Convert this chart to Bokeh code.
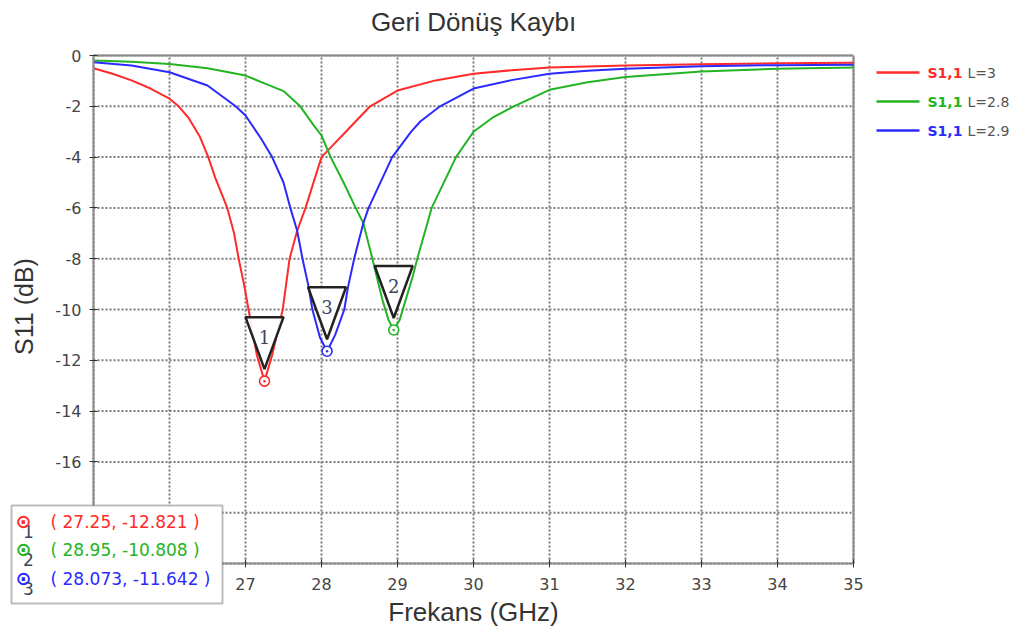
from bokeh.plotting import figure
from bokeh.models import Label, BoxAnnotation, FixedTicker, Range1d, LinearAxis, PrintfTickFormatter
from bokeh.core.properties import value
from bokeh.embed import file_html
from bokeh.resources import INLINE

# ---- data ----
freq_L3 = [25.0, 25.25, 25.5, 25.75, 26.0, 26.12, 26.25, 26.4, 26.51, 26.6, 26.76, 26.85, 26.91, 26.98,
           27.04, 27.15, 27.25, 27.35, 27.49, 27.58, 27.68, 27.79, 28.0, 28.16, 28.32, 28.64, 29.0,
           29.5, 30.0, 30.5, 31.0, 32.0, 33.0, 34.0, 35.0]
s11_L3 = [-0.5, -0.72, -0.98, -1.3, -1.7, -2.0, -2.45, -3.2, -4.0, -4.8, -6.0, -7.0, -8.0, -9.0,
          -10.0, -11.8, -12.821, -11.8, -10.0, -8.0, -6.9, -6.0, -4.0, -3.5, -3.0, -2.0, -1.38,
          -0.98, -0.72, -0.58, -0.47, -0.39, -0.34, -0.31, -0.29]

freq_L28 = [25.0, 25.5, 26.0, 26.5, 27.0, 27.25, 27.5, 27.72, 27.9, 28.0, 28.12, 28.29, 28.45, 28.55,
            28.67, 28.71, 28.8, 28.88, 28.95, 29.03, 29.1, 29.2, 29.26, 29.45, 29.77, 30.0, 30.25,
            30.53, 31.0, 31.5, 32.0, 33.0, 34.0, 35.0]
s11_L28 = [-0.2, -0.25, -0.33, -0.5, -0.79, -1.1, -1.4, -2.0, -2.76, -3.15, -4.0, -5.0, -6.0, -6.6,
           -8.0, -8.5, -9.6, -10.4, -10.808, -10.4, -9.7, -8.7, -8.0, -6.0, -4.0, -3.0, -2.45,
           -2.0, -1.35, -1.05, -0.85, -0.63, -0.52, -0.47]

freq_L29 = [25.0, 25.5, 26.0, 26.5, 26.87, 27.0, 27.2, 27.35, 27.5, 27.59, 27.68, 27.75, 27.83, 27.88,
            27.98, 28.073, 28.18, 28.3, 28.35, 28.43, 28.55, 28.62, 28.93, 29.18, 29.3, 29.56, 30.0,
            30.5, 31.0, 31.5, 32.0, 33.0, 34.0, 35.0]
s11_L29 = [-0.27, -0.39, -0.66, -1.18, -2.0, -2.36, -3.25, -4.0, -5.0, -6.0, -6.9, -8.0, -9.1, -10.0,
           -11.1, -11.642, -11.0, -10.0, -9.1, -8.0, -6.6, -6.0, -4.0, -3.0, -2.6, -2.0, -1.3,
           -0.97, -0.72, -0.6, -0.52, -0.42, -0.38, -0.36]

series_names = ["S1,1", "S1,1", "S1,1"]
series_params = ["L=3", "L=2.8", "L=2.9"]
series_colors = ["#ff2a2a", "#22b422", "#2a2aff"]

marker_ids = ["1", "2", "3"]
marker_freq = [27.25, 28.95, 28.073]
marker_s11 = [-12.821, -10.808, -11.642]
marker_texts = ["( 27.25, -12.821 )", "( 28.95, -10.808 )", "( 28.073, -11.642 )"]

title_text = "Geri Dönüş Kaybı"
x_label = "Frekans (GHz)"
y_label = "S11 (dB)"
x_ticks = list(range(25, 36))
y_ticks = list(range(-20, 1, 2))

# ---- layout constants (picture pixels) ----
CAN_L, CAN_T, CAN_W, CAN_H = 0, 0, 1013, 628
PL_L, PL_R, PL_T, PL_B = 93, 853, 55, 563   # plotting box

x0, x1 = x_ticks[0], x_ticks[-1]
y0, y1 = y_ticks[0], y_ticks[-1]
kx = (PL_R - PL_L) / (x1 - x0)
ky = (PL_B - PL_T) / (y1 - y0)
xr = Range1d(x0 - (PL_L - CAN_L) / kx, x0 - (PL_L - CAN_L) / kx + CAN_W / kx)
yr = Range1d(y1 + (PL_T - CAN_T) / ky - CAN_H / ky, y1 + (PL_T - CAN_T) / ky)


def sx(xw):
    return xw - CAN_L


def sy(yw):
    return CAN_T + CAN_H - yw


p = figure(output_backend="svg", toolbar_location=None, width=CAN_W, height=CAN_H,
           min_border=0, x_range=xr, y_range=yr, x_axis_location=None, y_axis_location=None)
p.outline_line_color = None
p.xgrid.visible = False
p.ygrid.visible = False

# grid (dotted) at tick positions
p.segment(x0=x_ticks, y0=[y0] * len(x_ticks), x1=x_ticks, y1=[y1] * len(x_ticks),
          line_color="#7a7a7a", line_width=2, line_dash="2 2")
p.segment(x0=[x0] * len(y_ticks), y0=y_ticks, x1=[x1] * len(y_ticks), y1=y_ticks,
          line_color="#7a7a7a", line_width=2, line_dash="2 2")
# top and right frame lines
p.segment(x0=[x0, x1], y0=[y1, y0], x1=[x1, x1], y1=[y1, y1], line_color="#8a8a8a", line_width=2)

# axes fixed at the plotting box edges
xaxis = LinearAxis(fixed_location=y0, bounds=(x0, x1), ticker=FixedTicker(ticks=x_ticks),
                   formatter=PrintfTickFormatter(format="%d"))
yaxis = LinearAxis(fixed_location=x0, bounds=(y0, y1), ticker=FixedTicker(ticks=y_ticks),
                   formatter=PrintfTickFormatter(format="%d"))
for ax in (xaxis, yaxis):
    ax.axis_line_color = "#8a8a8a"
    ax.axis_line_width = 2
    ax.major_tick_line_color = "#333333"
    ax.major_tick_in = 4
    ax.major_tick_out = 4
    ax.minor_tick_line_color = None
    ax.major_label_text_font = "DejaVu Sans"
    ax.major_label_text_font_size = "16px"
    ax.major_label_text_color = "#444444"
xaxis.major_label_standoff = 10
yaxis.major_label_standoff = 8
p.add_layout(xaxis, "below")
p.add_layout(yaxis, "left")

# curves
curves = [(freq_L3, s11_L3), (freq_L28, s11_L28), (freq_L29, s11_L29)]
for (fx, fy), col in zip(curves, series_colors):
    p.line(fx, fy, line_color=col, line_width=2)

# marker triangles (derived from marker points)
half_w = 19 / kx
tip_off = 12 / ky
tri_h = 52 / ky
xs, ys = [], []
for fx, fy in zip(marker_freq, marker_s11):
    xs.append([fx - half_w, fx + half_w, fx])
    ys.append([fy + tip_off + tri_h, fy + tip_off + tri_h, fy + tip_off])
p.patches(xs, ys, fill_color="white", fill_alpha=0.9, line_color="#222222", line_width=2.5)
p.text(marker_freq, [v + tip_off + tri_h * 0.62 for v in marker_s11], text=marker_ids,
       text_align="center", text_baseline="middle", text_font_size="18px",
       text_color="#3a4660", text_font=value("DejaVu Serif"))
p.scatter(marker_freq, marker_s11, marker="circle_dot", size=10, fill_color="white",
          line_color=series_colors, line_width=1.6)

# titles / axis labels
p.add_layout(Label(x=sx((PL_L + PL_R) / 2), y=sy(21), x_units="screen", y_units="screen", text=title_text,
                   text_font="Liberation Sans", text_font_size="26px", text_color="#333333",
                   text_align="center", text_baseline="middle"))
p.add_layout(Label(x=sx((PL_L + PL_R) / 2), y=sy(611), x_units="screen", y_units="screen", text=x_label,
                   text_font="Liberation Sans", text_font_size="26px", text_color="#333333",
                   text_align="center", text_baseline="middle"))
p.add_layout(Label(x=sx(23), y=sy((PL_T + PL_B) / 2 - 3), x_units="screen", y_units="screen", text=y_label,
                   text_font="Liberation Sans", text_font_size="25px", text_color="#333333",
                   text_align="center", text_baseline="middle", angle=90, angle_units="deg"))

# ---- marker info box (bottom-left) ----
p.add_layout(BoxAnnotation(left=sx(11), right=sx(222), top=sy(505), bottom=sy(603),
                           left_units="screen", right_units="screen", top_units="screen",
                           bottom_units="screen", fill_color="white", fill_alpha=1.0,
                           line_color="#222222", line_width=2, level="overlay"))
row_y = [521, 549, 578]
for i in range(3):
    ry = row_y[i]
    p.add_layout(Label(x=sx(28), y=sy(ry + 10), x_units="screen", y_units="screen", text=marker_ids[i],
                       text_font="DejaVu Sans", text_font_size="17px", text_color="#3a4660",
                       text_align="center", text_baseline="middle", level="overlay"))
    p.add_layout(Label(x=sx(23), y=sy(ry - 1), x_units="screen", y_units="screen", text="⊙",
                       text_font="DejaVu Sans", text_font_size="19px", text_font_style="bold",
                       text_color=series_colors[i],
                       text_align="center", text_baseline="middle", level="overlay"))
    p.add_layout(Label(x=sx(50), y=sy(ry), x_units="screen", y_units="screen", text=marker_texts[i],
                       text_font="DejaVu Sans", text_font_size="17px", text_color=series_colors[i],
                       text_align="left", text_baseline="middle", level="overlay"))

# ---- legend (top-right) ----
leg_y = [72, 101, 130]
for i in range(3):
    ly = leg_y[i]
    p.add_layout(BoxAnnotation(left=sx(876), right=sx(919), top=sy(ly - 1.2), bottom=sy(ly + 1.2),
                               left_units="screen", right_units="screen", top_units="screen",
                               bottom_units="screen", fill_color=series_colors[i], fill_alpha=1.0,
                               line_color=None, level="overlay"))
    p.add_layout(Label(x=sx(927), y=sy(ly), x_units="screen", y_units="screen", text=series_names[i],
                       text_font="DejaVu Sans", text_font_size="14px", text_font_style="bold",
                       text_color=series_colors[i], text_baseline="middle", level="overlay"))
    p.add_layout(Label(x=sx(967), y=sy(ly), x_units="screen", y_units="screen", text=series_params[i],
                       text_font="DejaVu Sans", text_font_size="14px",
                       text_color="#555555", text_baseline="middle", level="overlay"))

open("out.html", "w").write(file_html(p, INLINE))
